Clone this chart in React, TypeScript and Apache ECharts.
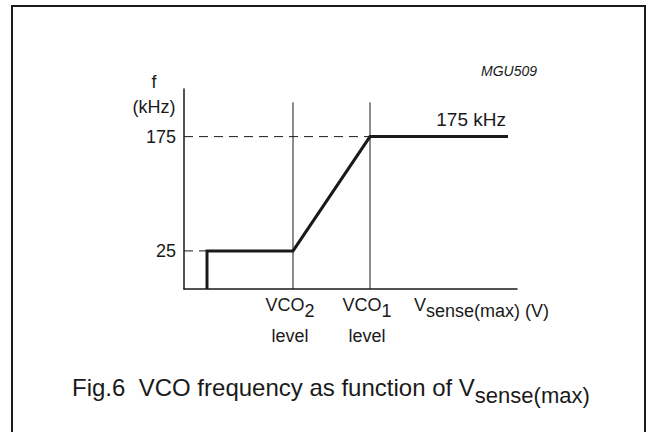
import React, { useEffect, useRef } from "react";
import * as echarts from "echarts";

// Abstract voltage axis (arbitrary units) and frequency axis (kHz)
const xRange = [0, 333];
const yRange = [-25, 237.5];
const yTickValues = [25, 175];
const yTickStep = 50;

// VCO frequency characteristic
const curveX = [23, 23, 109, 186, 324];
const curveY = [-25, 25, 25, 175, 175];

// VCO level markers
const vcoLevelX = [109, 186];
const vcoLevelSub = ["2", "1"];
const vcoMarkerTop = 220;

// Dashed reference levels: [frequency, x where the dashed line meets the curve]
const refLevelY = [175, 25];
const refLevelEndX = [186, 23];

const FONT = "'Liberation Sans', Arial, Helvetica, sans-serif";
const INK = "#1a1a1a";

export default function App() {
  const ref = useRef<HTMLDivElement>(null);

  useEffect(() => {
    if (!ref.current) return;
    const chart = echarts.init(ref.current, undefined, { renderer: "svg" });

    const series: any[] = [];
    refLevelY.forEach((yv, i) => {
      series.push({
        type: "line",
        data: [
          [xRange[0], yv],
          [refLevelEndX[i], yv],
        ],
        symbol: "none",
        silent: true,
        lineStyle: { color: INK, width: 1, type: [9, 6] },
      });
    });
    vcoLevelX.forEach((xv) => {
      series.push({
        type: "line",
        data: [
          [xv, yRange[0]],
          [xv, vcoMarkerTop],
        ],
        symbol: "none",
        silent: true,
        lineStyle: { color: INK, width: 1 },
      });
    });
    series.push({
      type: "line",
      data: curveX.map((x, i) => [x, curveY[i]]),
      symbol: "none",
      silent: true,
      lineStyle: { color: INK, width: 3, join: "miter" },
      z: 5,
    });

    chart.setOption({
      animation: false,
      backgroundColor: "#ffffff",
      grid: { left: 184, right: 136, top: 89, bottom: 143, containLabel: false },
      xAxis: {
        type: "value",
        min: xRange[0],
        max: xRange[1],
        axisLine: { show: true, onZero: false, lineStyle: { color: INK, width: 1.5 } },
        axisTick: { show: false },
        axisLabel: { show: false },
        splitLine: { show: false },
      },
      yAxis: {
        type: "value",
        min: yRange[0],
        max: yRange[1],
        interval: yTickStep,
        axisLine: { show: true, onZero: false, lineStyle: { color: INK, width: 1.5 } },
        axisTick: { show: false },
        splitLine: { show: false },
        axisLabel: {
          showMinLabel: false,
          showMaxLabel: false,
          margin: 8,
          fontSize: 18,
          fontFamily: FONT,
          color: INK,
          formatter: (v: number) => (yTickValues.includes(v) ? String(v) : ""),
        },
      },
      series,
    });

    const px = (x: number, y: number) =>
      chart.convertToPixel({ gridIndex: 0 }, [x, y]) as number[];

    const origin = px(xRange[0], yRange[0]);
    const yTop = px(xRange[0], yRange[1]);
    const xEnd = px(xRange[1], yRange[0]);
    const curveEnd = px(curveX[curveX.length - 1], curveY[curveY.length - 1]);

    const txt = (text: string, x: number, y: number, size: number, align = "left", extra: any = {}) => ({
      type: "text",
      silent: true,
      style: {
        text,
        x,
        y,
        fontSize: size,
        fontFamily: FONT,
        fill: INK,
        align,
        textAlign: align,
        verticalAlign: "middle",
        textVerticalAlign: "middle",
        ...extra,
      },
    });

    const subRich = (main: string, sub: string, size: number, subSize: number, drop: number) => ({
      text: `{m|${main}}{s|${sub}}`,
      rich: {
        m: { fontSize: size, fontFamily: FONT, fill: INK, verticalAlign: "top" },
        s: { fontSize: subSize, fontFamily: FONT, fill: INK, verticalAlign: "top", padding: [drop, 0, 0, 0] },
      },
    });

    const graphic: any[] = [
      {
        type: "rect",
        silent: true,
        shape: { x: 12, y: 6, width: 633, height: 440 },
        style: { fill: "none", stroke: INK, lineWidth: 2 },
      },
      txt("MGU509", 537, 71, 14, "right", { fontStyle: "italic" }),
      txt("f", origin[0] - 30, yTop[1] - 7, 18, "center"),
      txt("(kHz)", origin[0] - 30, yTop[1] + 18, 18, "center"),
      txt("175 kHz", curveEnd[0] - 2, curveEnd[1] - 17, 19, "right"),
    ];

    vcoLevelX.forEach((xv, i) => {
      const p = px(xv, yRange[0]);
      graphic.push({
        type: "text",
        silent: true,
        style: {
          x: p[0] - 3,
          y: origin[1] + 7,
          align: "center",
          textAlign: "center",
          verticalAlign: "top",
          textVerticalAlign: "top",
          ...subRich("VCO", vcoLevelSub[i], 18, 18, 6),
        },
      });
      graphic.push(txt("level", p[0] - 3, origin[1] + 47, 18, "center"));
    });

    graphic.push({
      type: "text",
      silent: true,
      style: {
        x: xEnd[0] - 103,
        y: origin[1] + 7,
        align: "left",
        textAlign: "left",
        verticalAlign: "top",
        textVerticalAlign: "top",
        ...subRich("V", "sense(max) (V)", 18, 18, 6),
      },
    });

    graphic.push({
      type: "text",
      silent: true,
      style: {
        x: 72,
        y: 375,
        align: "left",
        textAlign: "left",
        verticalAlign: "top",
        textVerticalAlign: "top",
        ...subRich("Fig.6  VCO frequency as function of V", "sense(max)", 24, 22, 9),
      },
    });

    chart.setOption({ graphic });

    return () => chart.dispose();
  }, []);

  return (
    <div
      ref={ref}
      style={{ position: "fixed", left: 0, top: 0, width: 653, height: 432, background: "#fff" }}
    />
  );
}
